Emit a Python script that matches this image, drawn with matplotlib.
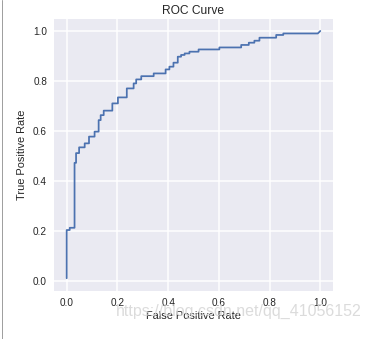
import matplotlib
matplotlib.use("Agg")
import matplotlib.pyplot as plt
import seaborn as sns
from matplotlib.lines import Line2D

# ROC curve corner points
fpr = [0.0, 0.0, 0.012, 0.012, 0.031, 0.031, 0.037, 0.037, 0.049, 0.049,
       0.071, 0.071, 0.088, 0.088, 0.110, 0.110, 0.126, 0.126, 0.134, 0.134,
       0.146, 0.146, 0.180, 0.180, 0.202, 0.202, 0.237, 0.237, 0.264, 0.264,
       0.274, 0.274, 0.294, 0.294, 0.343, 0.343, 0.390, 0.390, 0.405, 0.405,
       0.421, 0.421, 0.438, 0.438, 0.451, 0.451, 0.465, 0.465, 0.484, 0.484,
       0.520, 0.520, 0.602, 0.602, 0.688, 0.688, 0.718, 0.718, 0.740, 0.740,
       0.760, 0.760, 0.826, 0.826, 0.854, 0.854, 0.990, 1.0]
tpr = [0.010, 0.203, 0.203, 0.212, 0.212, 0.472, 0.472, 0.511, 0.511, 0.534,
       0.534, 0.550, 0.550, 0.577, 0.577, 0.597, 0.597, 0.643, 0.643, 0.663,
       0.663, 0.681, 0.681, 0.710, 0.710, 0.734, 0.734, 0.770, 0.770, 0.790,
       0.790, 0.806, 0.806, 0.819, 0.819, 0.830, 0.830, 0.846, 0.846, 0.857,
       0.857, 0.873, 0.873, 0.897, 0.897, 0.904, 0.904, 0.910, 0.910, 0.917,
       0.917, 0.926, 0.926, 0.934, 0.934, 0.944, 0.944, 0.953, 0.953, 0.961,
       0.961, 0.973, 0.973, 0.984, 0.984, 0.990, 0.990, 1.0]

title = "ROC Curve"
xlabel = "False Positive Rate"
ylabel = "True Positive Rate"
watermark = "https://blog.csdn.net/qq_41056152"

sns.set_style("darkgrid")
plt.rcParams['font.family'] = ['Liberation Sans', 'DejaVu Sans']

DPI = 72
fig = plt.figure(figsize=(381 / DPI, 339 / DPI), dpi=DPI)
ax = fig.add_axes([54 / 381, 1 - 290.6 / 339, 279 / 381, 272 / 339])
ax.set_facecolor("#EAEAF2")
ax.plot(fpr, tpr, color="#4C72B0", lw=1.75)
ax.margins(0.05)
ax.set_xticks([0.0, 0.2, 0.4, 0.6, 0.8, 1.0])
ax.set_yticks([0.0, 0.2, 0.4, 0.6, 0.8, 1.0])
ax.grid(True, color="white", lw=1.5)
ax.tick_params(labelsize=10, colors="#262626", length=0, pad=7)
ax.set_xlabel(xlabel, fontsize=11, color="#262626", labelpad=3)
ax.set_ylabel(ylabel, fontsize=11, color="#262626", labelpad=6)
ax.set_title(title, fontsize=12, color="#262626", pad=5)
for s in ax.spines.values():
    s.set_visible(False)

fig.text(362 / 381, 1 - 311.5 / 339, watermark, ha="right", va="center",
         fontsize=16, color="#d8d8d8", alpha=0.9)
fig.add_artist(Line2D([2 / 381, 2 / 381], [0, 1], transform=fig.transFigure,
                      color="#a0a0a0", lw=1))

fig.savefig("out.png", dpi=DPI)
